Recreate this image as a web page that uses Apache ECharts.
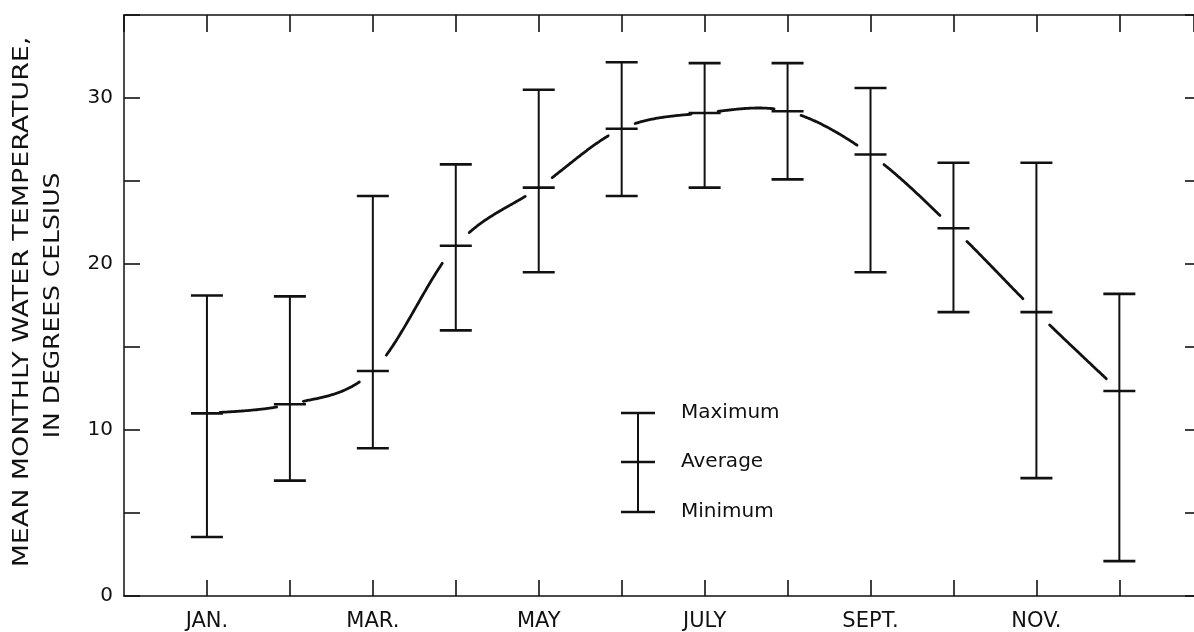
<!DOCTYPE html>
<html>
<head>
<meta charset="utf-8">
<script src="https://cdn.jsdelivr.net/npm/echarts@6/dist/echarts.min.js"></script>
<style>
html,body{margin:0;padding:0;background:#fff;}
#chart{width:1194px;height:632px;}
</style>
</head>
<body>
<div id="chart"></div>
<script>
// ---- data ----
const months = [1, 2, 3, 4, 5, 6, 7, 8, 9, 10, 11, 12];
const maxTemp = [18.1, 18.05, 24.1, 26.0, 30.5, 32.15, 32.1, 32.1, 30.6, 26.1, 26.1, 18.2];
const avgTemp = [11.0, 11.55, 13.55, 21.1, 24.6, 28.15, 29.1, 29.2, 26.6, 22.15, 17.1, 12.35];
const minTemp = [3.55, 6.95, 8.9, 16.0, 19.5, 24.1, 24.6, 25.1, 19.5, 17.1, 7.1, 2.1];
const tickMonths = [1, 3, 5, 7, 9, 11];
const tickLabels = ['JAN.', 'MAR.', 'MAY', 'JULY', 'SEPT.', 'NOV.'];
const yTickLabels = [0, 10, 20, 30];
const legendLabels = ['Maximum', 'Average', 'Minimum'];
const yTitle = ['MEAN MONTHLY WATER TEMPERATURE,', 'IN DEGREES CELSIUS'];

const INK = '#111';
const FONT = '"DejaVu Sans", "Liberation Sans", sans-serif';

const chart = echarts.init(document.getElementById('chart'), null, {renderer: 'canvas'});

function errorBarItem(params, api) {
  const x = api.value(0);
  const pMax = api.coord([x, api.value(1)]);
  const pAvg = api.coord([x, api.value(2)]);
  const pMin = api.coord([x, api.value(3)]);
  const hw = 16;
  const cap = (p) => ({
    type: 'line',
    shape: {x1: p[0] - hw, y1: p[1], x2: p[0] + hw, y2: p[1]},
    style: {stroke: INK, lineWidth: 2.6}
  });
  return {
    type: 'group',
    children: [
      {type: 'line', shape: {x1: pMax[0], y1: pMax[1], x2: pMin[0], y2: pMin[1]},
       style: {stroke: INK, lineWidth: 2}},
      cap(pMax), cap(pAvg), cap(pMin)
    ]
  };
}

function curveItem(params, api) {
  const i = params.dataIndex;
  if (i >= months.length - 1) return null;
  const pts = months.map((m, j) => api.coord([m, avgTemp[j]]));
  const p0 = pts[Math.max(i - 1, 0)];
  const p1 = pts[i];
  const p2 = pts[i + 1];
  const p3 = pts[Math.min(i + 2, pts.length - 1)];
  const c1 = [p1[0] + (p2[0] - p0[0]) / 6, p1[1] + (p2[1] - p0[1]) / 6];
  const c2 = [p2[0] - (p3[0] - p1[0]) / 6, p2[1] - (p3[1] - p1[1]) / 6];
  const gap = 13;
  const out = [];
  const N = 80;
  for (let k = 0; k <= N; k++) {
    const t = k / N, u = 1 - t;
    const x = u*u*u*p1[0] + 3*u*u*t*c1[0] + 3*u*t*t*c2[0] + t*t*t*p2[0];
    const y = u*u*u*p1[1] + 3*u*u*t*c1[1] + 3*u*t*t*c2[1] + t*t*t*p2[1];
    if (x >= p1[0] + gap && x <= p2[0] - gap) out.push([x, y]);
  }
  if (out.length < 2) return null;
  return {
    type: 'polyline',
    shape: {points: out},
    style: {stroke: INK, lineWidth: 2.8, fill: null, lineCap: 'round'}
  };
}

// legend key (pixel layout)
const lgX = 638, lgHW = 17, lgY = [413, 462, 512], lgTextX = 681;
const legendGraphic = {
  type: 'group',
  children: [
    {type: 'line', shape: {x1: lgX, y1: lgY[0], x2: lgX, y2: lgY[2]}, style: {stroke: INK, lineWidth: 2}},
    ...lgY.map(y => ({type: 'line', shape: {x1: lgX - lgHW, y1: y, x2: lgX + lgHW, y2: y}, style: {stroke: INK, lineWidth: 2.6}})),
    ...legendLabels.map((t, k) => ({
      type: 'text', x: lgTextX, y: lgY[k],
      style: {text: t, font: '20px ' + FONT, fill: INK, align: 'left', verticalAlign: 'middle'}
    }))
  ]
};

const titleGraphic = [
  {type: 'text', x: 22.5, y: 302, rotation: Math.PI / 2, scaleX: 1.28,
   style: {text: yTitle[0], font: '21px ' + FONT, fill: INK, align: 'center', verticalAlign: 'middle'}},
  {type: 'text', x: 53.5, y: 305.5, rotation: Math.PI / 2, scaleX: 1.19,
   style: {text: yTitle[1], font: '21px ' + FONT, fill: INK, align: 'center', verticalAlign: 'middle'}}
];

const axisLine = {show: true, onZero: false, lineStyle: {color: INK, width: 1.5}};
const tick = (len) => ({show: true, inside: true, length: len, lineStyle: {color: INK, width: 1.6}});

chart.setOption({
  backgroundColor: '#fff',
  animation: false,
  grid: {left: 124, right: -1, top: 15, bottom: 36, containLabel: false},
  xAxis: [
    {type: 'value', position: 'bottom', min: 0, max: 12.9, interval: 1,
     axisLine: axisLine, axisTick: tick(16), splitLine: {show: false},
     axisLabel: {
       margin: 15, color: INK, fontSize: 21, fontFamily: FONT,
       showMinLabel: false, showMaxLabel: false,
       formatter: (v) => { const k = tickMonths.indexOf(v); return k >= 0 ? tickLabels[k] : ''; }
     }},
    {type: 'value', position: 'top', min: 0, max: 12.9, interval: 1,
     axisLine: axisLine, axisTick: tick(17), splitLine: {show: false},
     axisLabel: {show: false}}
  ],
  yAxis: [
    {type: 'value', position: 'left', min: 0, max: 35, interval: 5,
     axisLine: axisLine, axisTick: tick(16), splitLine: {show: false},
     axisLabel: {
       margin: 11, color: INK, fontSize: 20, fontFamily: FONT,
       formatter: (v) => yTickLabels.indexOf(v) >= 0 ? String(v) : ''
     }},
    {type: 'value', position: 'right', min: 0, max: 35, interval: 5,
     axisLine: {show: false, onZero: false}, axisTick: tick(9), splitLine: {show: false},
     axisLabel: {show: false}}
  ],
  graphic: [legendGraphic, ...titleGraphic],
  series: [
    {type: 'custom', name: 'curve', xAxisIndex: 0, yAxisIndex: 0,
     renderItem: curveItem,
     encode: {x: 0, y: 1},
     data: months.map((m, i) => [m, avgTemp[i]]), z: 2},
    {type: 'custom', name: 'range', xAxisIndex: 0, yAxisIndex: 0,
     renderItem: errorBarItem,
     encode: {x: 0, y: [1, 2, 3]},
     data: months.map((m, i) => [m, maxTemp[i], avgTemp[i], minTemp[i]]), z: 3}
  ]
});
</script>
</body>
</html>
